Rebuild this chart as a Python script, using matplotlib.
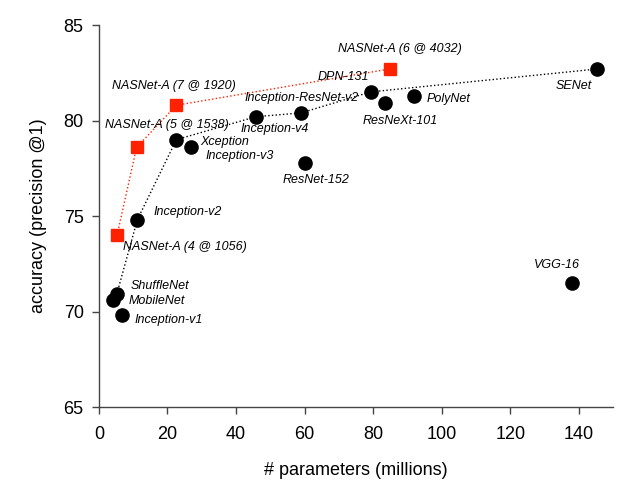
import matplotlib.pyplot as plt

OUTPUT_PLOT = 'out.png'

# published models (black dots)
model_names = ['SENet', 'VGG-16', 'DPN-131', 'ResNeXt-101', 'PolyNet',
               'Inception-ResNet-v2', 'Inception-v4', 'Xception', 'Inception-v3',
               'ResNet-152', 'Inception-v2', 'ShuffleNet', 'MobileNet', 'Inception-v1']
model_params = [145.4, 138.1, 79.3, 83.5, 91.8, 59.0, 45.8, 22.6, 27.0, 60.1, 11.2, 5.2, 4.0, 6.6]
model_acc = [82.7, 71.5, 81.5, 80.9, 81.3, 80.4, 80.2, 79.0, 78.6, 77.8, 74.8, 70.9, 70.6, 69.8]

# models joined by the black dotted line
frontier = ['MobileNet', 'ShuffleNet', 'Inception-v2', 'Xception', 'Inception-v4',
            'Inception-ResNet-v2', 'DPN-131', 'SENet']

# NASNet-A (red squares)
nas_names = ['NASNet-A (4 @ 1056)', 'NASNet-A (5 @ 1538)', 'NASNet-A (7 @ 1920)', 'NASNet-A (6 @ 4032)']
nas_params = [5.3, 11.0, 22.6, 84.8]
nas_acc = [74.0, 78.6, 80.8, 82.7]

# label offsets in pixels (left edge of text, vertical centre)
model_offsets = {
    'SENet': (-42, -17), 'VGG-16': (-38, 18), 'DPN-131': (-53, 15),
    'ResNeXt-101': (-23, -18), 'PolyNet': (13, -3), 'Inception-ResNet-v2': (-57, 15),
    'Inception-v4': (-15, -12), 'Xception': (24, -2), 'Inception-v3': (14, -9),
    'ResNet-152': (-22, -17), 'Inception-v2': (16, 8), 'ShuffleNet': (14, 8),
    'MobileNet': (16, -1), 'Inception-v1': (13, -5),
}
nas_offsets = [(6, -12), (-32, 22), (-64, 19), (-52, 20)]

RED = '#ff2200'
plt.rcParams['font.family'] = ['Liberation Sans', 'DejaVu Sans']

fig = plt.figure(figsize=(6.34, 4.91), dpi=100)
ax = fig.add_axes([0.156, 0.171, 0.811, 0.778])

lookup = dict(zip(model_names, zip(model_params, model_acc)))
fx = [lookup[n][0] for n in frontier]
fy = [lookup[n][1] for n in frontier]
ax.plot(fx, fy, linestyle=':', color='black', linewidth=1.0, zorder=1)
ax.plot(nas_params, nas_acc, linestyle=':', color=RED, linewidth=1.0, zorder=1)

ax.plot(model_params, model_acc, linestyle='none', marker='o', markersize=9.5,
        color='black', zorder=3)
ax.plot(nas_params, nas_acc, linestyle='none', marker='s', markersize=8.5,
        color=RED, zorder=3)

for name, x, y in zip(model_names, model_params, model_acc):
    ax.annotate(name, (x, y), xytext=model_offsets[name], textcoords='offset pixels',
                ha='left', va='center', fontsize=9, style='italic')
for name, x, y, off in zip(nas_names, nas_params, nas_acc, nas_offsets):
    ax.annotate(name, (x, y), xytext=off, textcoords='offset pixels',
                ha='left', va='center', fontsize=9, style='italic')

ax.set_xlim(0, 150)
ax.set_ylim(65, 85)
ax.set_xticks(range(0, 141, 20))
ax.set_yticks(range(65, 86, 5))
ax.tick_params(direction='out', length=5, width=1, color='#444444', labelsize=13, pad=6)
ax.tick_params(axis='x', pad=9)
for side in ['top', 'right']:
    ax.spines[side].set_visible(False)
for side in ['left', 'bottom']:
    ax.spines[side].set_color('#444444')
    ax.spines[side].set_linewidth(1.0)

ax.set_xlabel('# parameters (millions)', fontsize=13, labelpad=13)
ax.set_ylabel('accuracy (precision @1)', fontsize=13, labelpad=12)

fig.savefig(OUTPUT_PLOT, dpi=100)
